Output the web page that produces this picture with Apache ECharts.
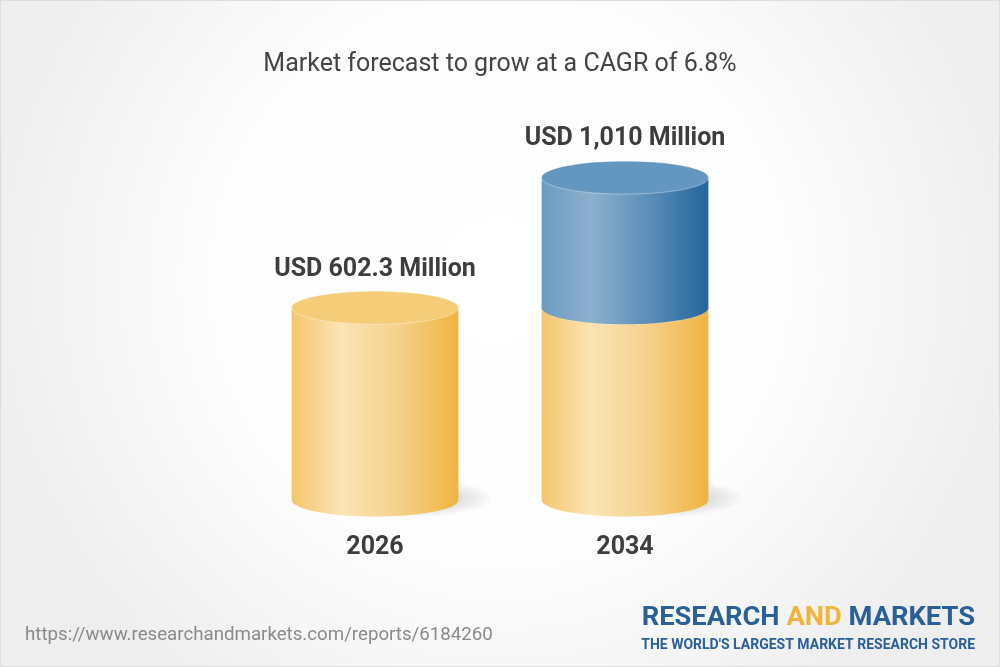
<!DOCTYPE html>
<html>
<head>
<meta charset="utf-8">
<script src="https://cdn.jsdelivr.net/npm/echarts@6/dist/echarts.min.js"></script>
<style>
html,body{margin:0;padding:0;background:#fff;}
#chart{width:1000px;height:667px;}
</style>
</head>
<body>
<div id="chart"></div>
<script>
// ---- data ----
const years = ['2026', '2034'];
const baseValues = [602.3, 602.3];   // yellow segment (2026 market size level)
const growthValues = [0, 407.7];     // blue segment (growth to 1,010)
const valueLabels = ['USD 602.3 Million', 'USD 1,010 Million'];
const titleText = 'Market forecast to grow at a CAGR of 6.8%';
const sourceText = 'https://www.researchandmarkets.com/reports/6184260';

const chart = echarts.init(document.getElementById('chart'), null, {renderer: 'canvas'});

const RY = 16.5;
const WIDTH_RATIO = 0.667;

function arcPts(cx, cy, rx, ry, a0, a1, n) {
  const pts = [];
  for (let k = 0; k <= n; k++) {
    const t = a0 + (a1 - a0) * k / n;
    pts.push([cx + rx * Math.cos(t), cy + ry * Math.sin(t)]);
  }
  return pts;
}

const palettes = {
  yellow: {
    side: [
      {offset: 0, color: '#f3c66c'},
      {offset: 0.3, color: '#fbe4b5'},
      {offset: 0.65, color: '#f5d08a'},
      {offset: 1, color: '#efb440'}
    ],
    top: '#f5cd78'
  },
  blue: {
    side: [
      {offset: 0, color: '#6b9bc2'},
      {offset: 0.3, color: '#8db0cc'},
      {offset: 0.65, color: '#5a8dba'},
      {offset: 1, color: '#23659c'}
    ],
    top: '#6497bf'
  }
};

function cylinderRenderer(kind, withShadow) {
  return function (params, api) {
    const i = api.value(0);
    const start = api.value(1);
    const end = api.value(2);
    if (!(end > start)) return null;
    const pB = api.coord([i, start]);
    const pT = api.coord([i, end]);
    const band = api.size([1, 0])[0];
    const rx = band * WIDTH_RATIO / 2;
    const cx = pB[0];
    const x0 = cx - rx, x1 = cx + rx;
    const yB = pB[1], yT = pT[1];
    const pal = palettes[kind];
    const children = [];
    if (withShadow) {
      const layers = 16;
      for (let k = 0; k < layers; k++) {
        const f = 1 - k / layers;
        children.push({
          type: 'polygon',
          shape: {points: arcPts(cx + rx * 0.45, yB - 2, rx * 0.9 * f + 4, 17 * f + 2, 0, Math.PI * 2, 60)},
          style: {fill: 'rgba(0,0,0,0.015)'},
          silent: true
        });
      }
    }
    const sidePts = [[x0, yT]].concat(arcPts(cx, yB, rx, RY, Math.PI, 0, 60)).concat([[x1, yT]]);
    children.push({
      type: 'polygon',
      shape: {points: sidePts},
      style: {fill: new echarts.graphic.LinearGradient(0, 0, 1, 0, pal.side)}
    });
    children.push({
      type: 'polygon',
      shape: {points: arcPts(cx, yT, rx, RY, 0, Math.PI * 2, 90)},
      style: {fill: pal.top, stroke: 'rgba(255,255,255,0.35)', lineWidth: 1}
    });
    return {type: 'group', children: children};
  };
}

const option = {
  backgroundColor: {
    type: 'radial', x: 0.5, y: 0.42, r: 0.78,
    colorStops: [
      {offset: 0, color: '#ffffff'},
      {offset: 0.55, color: '#fdfdfd'},
      {offset: 1, color: '#eeeeee'}
    ]
  },
  animation: false,
  title: {
    text: titleText,
    left: 'center',
    top: 47,
    textStyle: {fontFamily: 'Roboto', fontSize: 25, fontWeight: 'normal', color: '#444444'}
  },
  grid: {left: 250, right: 250, top: 117, bottom: 167},
  xAxis: {
    type: 'category',
    data: years,
    axisLine: {show: false},
    axisTick: {show: false},
    splitLine: {show: false},
    axisLabel: {
      margin: 35,
      fontFamily: 'Roboto', fontSize: 25, fontWeight: 'bold', color: '#3d3d3d'
    }
  },
  yAxis: {
    type: 'value', min: 0, max: 1200, show: false, splitLine: {show: false}
  },
  series: [
    {
      name: 'base', type: 'custom',
      encode: {x: 0, y: [1, 2]},
      data: years.map((_, i) => [i, 0, baseValues[i]]),
      renderItem: cylinderRenderer('yellow', true),
      z: 2
    },
    {
      name: 'growth', type: 'custom',
      encode: {x: 0, y: [1, 2]},
      data: years.map((_, i) => [i, baseValues[i], baseValues[i] + growthValues[i]]),
      renderItem: cylinderRenderer('blue', false),
      z: 3
    },
    {
      name: 'labels', type: 'custom',
      encode: {x: 0, y: 1},
      data: years.map((_, i) => [i, baseValues[i] + growthValues[i]]),
      renderItem: function (params, api) {
        const i = api.value(0);
        const p = api.coord([i, api.value(1)]);
        return {
          type: 'text',
          x: p[0], y: p[1] - RY - 22,
          style: {
            text: valueLabels[i],
            textAlign: 'center', textVerticalAlign: 'middle',
            font: 'bold 25px Roboto', fill: '#3d3d3d'
          }
        };
      },
      z: 4
    }
  ],
  graphic: [
    {
      type: 'rect', silent: true, z: 100,
      shape: {x: 0.5, y: 0.5, width: 999, height: 666},
      style: {fill: 'none', stroke: '#dddddd', lineWidth: 1}
    },
    {
      type: 'text', x: 25, y: 635,
      style: {text: sourceText, font: '18.7px Roboto', fill: '#8a8a8a', textVerticalAlign: 'middle'}
    },
    {
      type: 'text', x: 975, y: 618, scaleX: 1.05,
      style: {
        text: '{b|RESEARCH }{y|AND}{b| MARKETS}',
        textAlign: 'right', textVerticalAlign: 'middle',
        rich: {
          b: {font: 'bold 26px Roboto', fill: '#2a6099', color: '#2a6099'},
          y: {font: 'bold 26px Roboto', fill: '#f0b43c', color: '#f0b43c'}
        }
      }
    },
    {
      type: 'text', x: 975, y: 645, scaleX: 1.0,
      style: {
        text: "THE WORLD'S LARGEST MARKET RESEARCH STORE",
        textAlign: 'right', textVerticalAlign: 'middle',
        font: 'bold 14px Roboto', fill: '#2a6099'
      }
    }
  ]
};

chart.setOption(option);
</script>
</body>
</html>
